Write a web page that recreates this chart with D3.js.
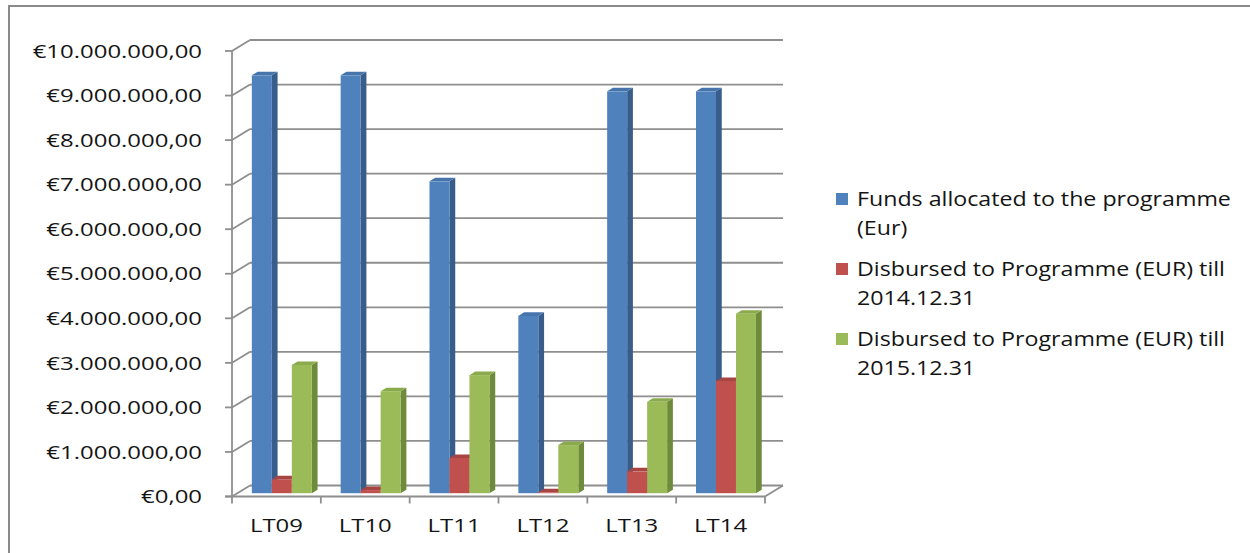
<!DOCTYPE html>
<html>
<head>
<meta charset="utf-8">
<script src="https://cdn.jsdelivr.net/npm/d3@7"></script>
<style>
  html, body { margin: 0; padding: 0; background: #fff; }
  svg { display: block; }
  text { font-family: "Open Sans", "Noto Sans", sans-serif; fill: #141414; }
</style>
</head>
<body>
<svg id="chart" width="1250" height="553"></svg>
<script>
// Programme codes along the horizontal axis
const categories = ["LT09", "LT10", "LT11", "LT12", "LT13", "LT14"];

// Series names as they appear in the legend
const seriesNames = [
  "Funds allocated to the programme (Eur)",
  "Disbursed to Programme (EUR) till 2014.12.31",
  "Disbursed to Programme (EUR) till 2015.12.31"
];

// Values in EUR, one per programme
const fundsAllocated = [9380000, 9380000, 7000000, 3980000, 9020000, 9020000];
const disbursed2014  = [310000, 70000, 790000, 20000, 490000, 2520000];
const disbursed2015  = [2880000, 2290000, 2650000, 1080000, 2050000, 4030000];

// Value axis ticks
const yTicks = [0, 1e6, 2e6, 3e6, 4e6, 5e6, 6e6, 7e6, 8e6, 9e6, 10e6];

// Legend line breaks
const legendLines = [
  ["Funds allocated to the programme", "(Eur)"],
  ["Disbursed to Programme (EUR) till", "2014.12.31"],
  ["Disbursed to Programme (EUR) till", "2015.12.31"]
];

const seriesValues = [fundsAllocated, disbursed2014, disbursed2015];

// Face colours: front, side, top
const palette = [
  { front: "#4f81bd", side: "#385d8a", top: "#4775ab" },
  { front: "#c0504d", side: "#8c3a38", top: "#a64542" },
  { front: "#9bbb59", side: "#6e8a3b", top: "#8aaa4b" }
];

const svg = d3.select("#chart");

// Outer frame
svg.append("rect")
  .attr("x", 9).attr("y", 6).attr("width", 1260).attr("height", 560)
  .attr("fill", "none").attr("stroke", "#8a8a8a").attr("stroke-width", 2);

// Pseudo-3D plot geometry: front plane plus a depth vector to the back wall
const DX = 18, DY = -11;
const x = d3.scaleBand().domain(categories).range([232, 765]).paddingInner(0).paddingOuter(0);
const y = d3.scaleLinear().domain([0, 10e6]).range([496.5, 51]);

const euro = d3.formatLocale({ decimal: ",", thousands: ".", grouping: [3], currency: ["€", ""] });
const fmt = euro.format("$,.2f");

const gridColor = "#8e8e8e";

// Back-wall gridlines
svg.append("g").selectAll("line").data(yTicks).join("line")
  .attr("x1", x.range()[0] + DX).attr("x2", x.range()[1] + DX)
  .attr("y1", d => y(d) + DY).attr("y2", d => y(d) + DY)
  .attr("stroke", gridColor).attr("stroke-width", 1.8);

// Side-wall diagonals from the front axis to the back wall
svg.append("g").selectAll("line").data(yTicks).join("line")
  .attr("x1", x.range()[0]).attr("x2", x.range()[0] + DX)
  .attr("y1", d => y(d)).attr("y2", d => y(d) + DY)
  .attr("stroke", gridColor).attr("stroke-width", 1.8);

// Front value axis line and ticks
svg.append("line")
  .attr("x1", x.range()[0]).attr("x2", x.range()[0])
  .attr("y1", y(0)).attr("y2", y(10e6))
  .attr("stroke", gridColor).attr("stroke-width", 1.8);
svg.append("g").selectAll("line").data(yTicks).join("line")
  .attr("x1", x.range()[0] - 7).attr("x2", x.range()[0])
  .attr("y1", d => y(d)).attr("y2", d => y(d))
  .attr("stroke", gridColor).attr("stroke-width", 1.8);

// Floor: front edge and right-hand diagonal
svg.append("line")
  .attr("x1", x.range()[0] - 7).attr("x2", x.range()[1])
  .attr("y1", y(0)).attr("y2", y(0))
  .attr("stroke", gridColor).attr("stroke-width", 1.8);
svg.append("line")
  .attr("x1", x.range()[1]).attr("x2", x.range()[1] + DX)
  .attr("y1", y(0)).attr("y2", y(0) + DY)
  .attr("stroke", gridColor).attr("stroke-width", 1.8);

// Category tick marks below the floor
const bounds = categories.map(c => x(c)).concat([x.range()[1]]);
svg.append("g").selectAll("line").data(bounds).join("line")
  .attr("x1", d => d).attr("x2", d => d)
  .attr("y1", y(0)).attr("y2", y(0) + 7)
  .attr("stroke", gridColor).attr("stroke-width", 1.8);

// Value labels (horizontally widened glyphs)
const axisScaleX = 1.26;
svg.append("g").selectAll("text").data(yTicks).join("text")
  .attr("transform", d => `translate(202,${y(d)}) scale(${axisScaleX},1)`)
  .attr("text-anchor", "end").attr("dy", "0.35em")
  .style("font-size", "19px")
  .text(d => fmt(d));

// Category labels
svg.append("g").selectAll("text").data(categories).join("text")
  .attr("transform", d => `translate(${x(d) + x.bandwidth() / 2},${y(0) + 29}) scale(${axisScaleX},1)`)
  .attr("text-anchor", "middle").attr("dy", "0.35em")
  .style("font-size", "19px")
  .text(d => d);

// Bars: placed slightly behind the front plane, with a shallow depth
const T0 = 0.3, TD = 0.32;
const groupW = x.bandwidth() * 0.675;
const xs = d3.scaleBand().domain(d3.range(seriesValues.length)).range([0, groupW]);

const barsData = [];
categories.forEach((c, i) => {
  seriesValues.forEach((vals, s) => {
    barsData.push({ c, s, v: vals[i] });
  });
});

const bx = d => x(d.c) + (x.bandwidth() - groupW) / 2 + xs(d.s) + DX * T0;
const by0 = y(0) + DY * T0;
const ddx = DX * TD, ddy = DY * TD;

const bars = svg.append("g").selectAll("g").data(barsData).join("g");

// side face
bars.append("path")
  .attr("fill", d => palette[d.s].side)
  .attr("d", d => {
    const x1 = bx(d) + xs.bandwidth();
    const yt = y(d.v) + DY * T0;
    return `M${x1},${by0}L${x1 + ddx},${by0 + ddy}L${x1 + ddx},${yt + ddy}L${x1},${yt}Z`;
  });
// top face
bars.append("path")
  .attr("fill", d => palette[d.s].top)
  .attr("d", d => {
    const x0 = bx(d), x1 = x0 + xs.bandwidth();
    const yt = y(d.v) + DY * T0;
    return `M${x0},${yt}L${x1},${yt}L${x1 + ddx},${yt + ddy}L${x0 + ddx},${yt + ddy}Z`;
  });
// front face
bars.append("rect")
  .attr("fill", d => palette[d.s].front)
  .attr("x", d => bx(d))
  .attr("width", xs.bandwidth())
  .attr("y", d => y(d.v) + DY * T0)
  .attr("height", d => by0 - (y(d.v) + DY * T0));

// Legend
const legendScaleX = 1.16;
const legend = svg.append("g");
legendLines.forEach((lines, i) => {
  const top = 199 + i * 70;
  legend.append("rect")
    .attr("x", 836).attr("y", top - 6).attr("width", 12).attr("height", 12)
    .attr("fill", palette[i].front);
  lines.forEach((ln, j) => {
    legend.append("text")
      .attr("transform", `translate(857,${top + j * 29}) scale(${legendScaleX},1)`)
      .attr("dy", "0.35em")
      .style("font-size", "20px")
      .text(ln);
  });
});
</script>
</body>
</html>
